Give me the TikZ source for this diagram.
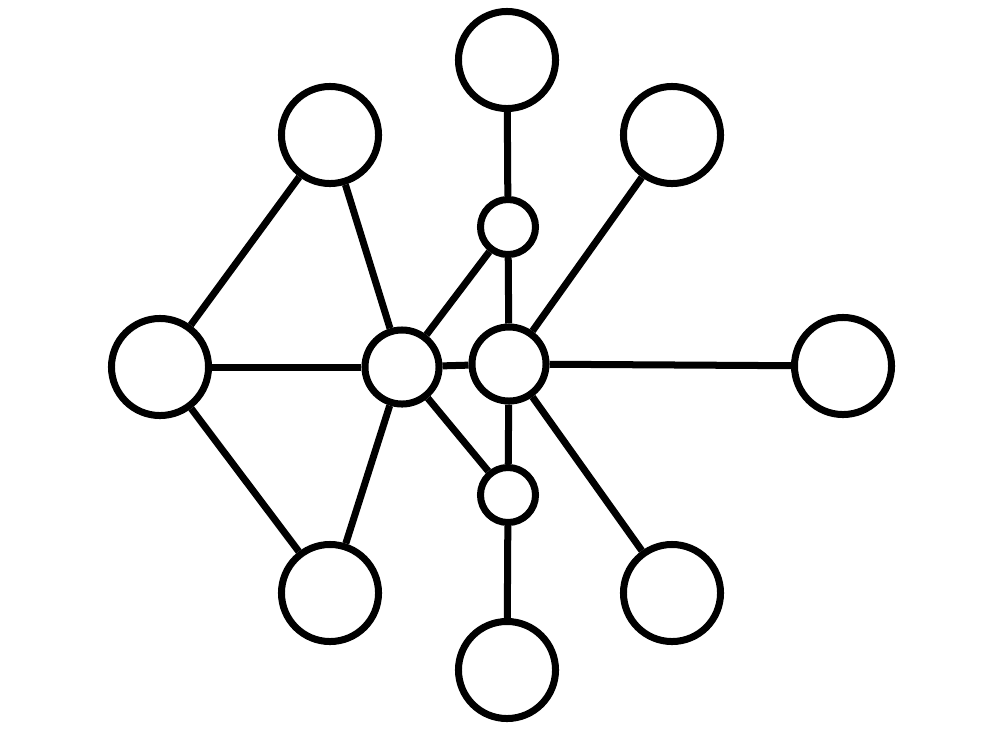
\documentclass[tikz,border=0pt]{standalone}
\usepackage{tikz}
\usetikzlibrary{positioning}

\begin{document}
\begin{tikzpicture}[x=0.01cm, y=-0.01cm, line width=0.07cm,
  big/.style={draw, circle, fill=white, inner sep=0pt, minimum size=0.97cm},
  hub/.style={draw, circle, fill=white, inner sep=0pt, minimum size=0.74cm},
  small/.style={draw, circle, fill=white, inner sep=0pt, minimum size=0.55cm}]
\useasboundingbox (0,0) rectangle (1000,751);
% outer ring
\node[big] (top) at (507,60) {};
\node[big] (ul) at (330,135) {};
\node[big] (ur) at (672,135) {};
\node[big] (left) at (160,367) {};
\node[big] (right) at (843,366) {};
\node[big] (ll) at (330,593) {};
\node[big] (lr) at (672,593) {};
\node[big] (bottom) at (507,670) {};
% hubs
\node[hub] (hubL) at (402,367) {};
\node[hub] (hubR) at (509,364) {};
\node[small] (su) at (508,227) {};
\node[small] (sl) at (508,495) {};
% links
\draw (left) -- (ul);
\draw (left) -- (ll);
\draw (left) -- (hubL);
\draw (ul) -- (hubL);
\draw (ll) -- (hubL);
\draw (hubL) -- (hubR);
\draw (hubL) -- (su);
\draw (hubL) -- (sl);
\draw (top) -- (su);
\draw (su) -- (hubR);
\draw (hubR) -- (sl);
\draw (sl) -- (bottom);
\draw (hubR) -- (ur);
\draw (hubR) -- (lr);
\draw (hubR) -- (right);
\end{tikzpicture}
\end{document}
